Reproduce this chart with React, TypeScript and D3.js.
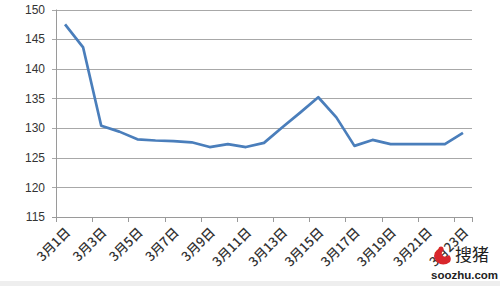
import React from "react";
import * as d3 from "d3";

const categories = Array.from({ length: 23 }, (_, i) => `3月${i + 1}日`);
const values = [
  147.5, 143.6, 130.4, 129.4, 128.1, 127.9, 127.8, 127.6, 126.8, 127.3, 126.8, 127.5,
  130.1, 132.6, 135.2, 131.8, 127.0, 128.0, 127.3, 127.3, 127.3, 127.3, 129.2,
];
const yTicks = [115, 120, 125, 130, 135, 140, 145, 150];

const W = 500;
const H = 286;
const left = 56;
const right = 472;
const top = 9.5;
const bottom = 217;

export default function App() {
  const x = d3.scaleBand<string>().domain(categories).range([left, right]).padding(0);
  const y = d3.scaleLinear().domain([115, 150]).range([bottom, top]);
  const line = d3
    .line<number>()
    .x((_, i) => (x(categories[i]) as number) + x.bandwidth() / 2)
    .y((d) => y(d));
  const bw = x.bandwidth();
  const tickXs: number[] = [];
  for (let i = 0; i <= categories.length; i += 2) tickXs.push(left + i * bw);
  tickXs.push(right);

  return (
    <svg
      width={W}
      height={H}
      style={{ position: "absolute", left: 0, top: 0, background: "#fff" }}
    >
      <rect x={0} y={0} width={W} height={H} fill="#ffffff" />
      <rect x={0} y={281} width={W} height={5} fill="#eeeeee" />
      {yTicks.map((t) => (
        <g key={t}>
          <line
            x1={left - 4}
            x2={right}
            y1={Math.round(y(t)) + 0.5}
            y2={Math.round(y(t)) + 0.5}
            stroke={t === 115 ? "#9a9a9a" : "#a8a8a8"}
            strokeWidth={1}
          />
          <text
            x={45}
            y={y(t)}
            dy="0.35em"
            textAnchor="end"
            fontFamily="'Liberation Sans', Arial, sans-serif"
            fontSize={12}
            fill="#333"
          >
            {t}
          </text>
        </g>
      ))}
      <line x1={left + 0.5} x2={left + 0.5} y1={top} y2={bottom} stroke="#9a9a9a" strokeWidth={1} />
      {tickXs.map((tx, i) => (
        <line
          key={i}
          x1={Math.round(tx) + 0.5}
          x2={Math.round(tx) + 0.5}
          y1={bottom}
          y2={bottom + 5}
          stroke="#9a9a9a"
          strokeWidth={1}
        />
      ))}
      {categories.map((c, i) =>
        i % 2 === 0 ? (
          <text
            key={c}
            transform={`translate(${(x(c) as number) + bw / 2 + 3},${bottom + 13}) rotate(-45)`}
            textAnchor="end"
            dy="0.35em"
            fontFamily="'Noto Sans CJK SC', sans-serif"
            fontSize={13}
            fontWeight={500}
            fill="#333"
          >
            {c}
          </text>
        ) : null
      )}
      <path d={line(values) as string} fill="none" stroke="#4a7ebb" strokeWidth={2.7} strokeLinejoin="round" />
      <g>
        <path
          d="M437,250 q-6,6 0,12 q6,5 13,0 q2,-4 -1,-7 q-3,3 -6,1 q-3,-3 1,-6 q-3,-3 -7,0 z"
          fill="#d9262b"
        />
        <circle cx={441} cy={249} r={2.5} fill="#d9262b" />
        <text x={455} y={261} fontFamily="'Noto Sans CJK SC', sans-serif" fontSize={17} fill="#222">
          搜猪
        </text>
        <text
          x={431}
          y={279}
          fontFamily="'Liberation Sans', Arial, sans-serif"
          fontWeight="bold"
          fontSize={11.5}
          fill="#222"
        >
          soozhu.com
        </text>
      </g>
    </svg>
  );
}
